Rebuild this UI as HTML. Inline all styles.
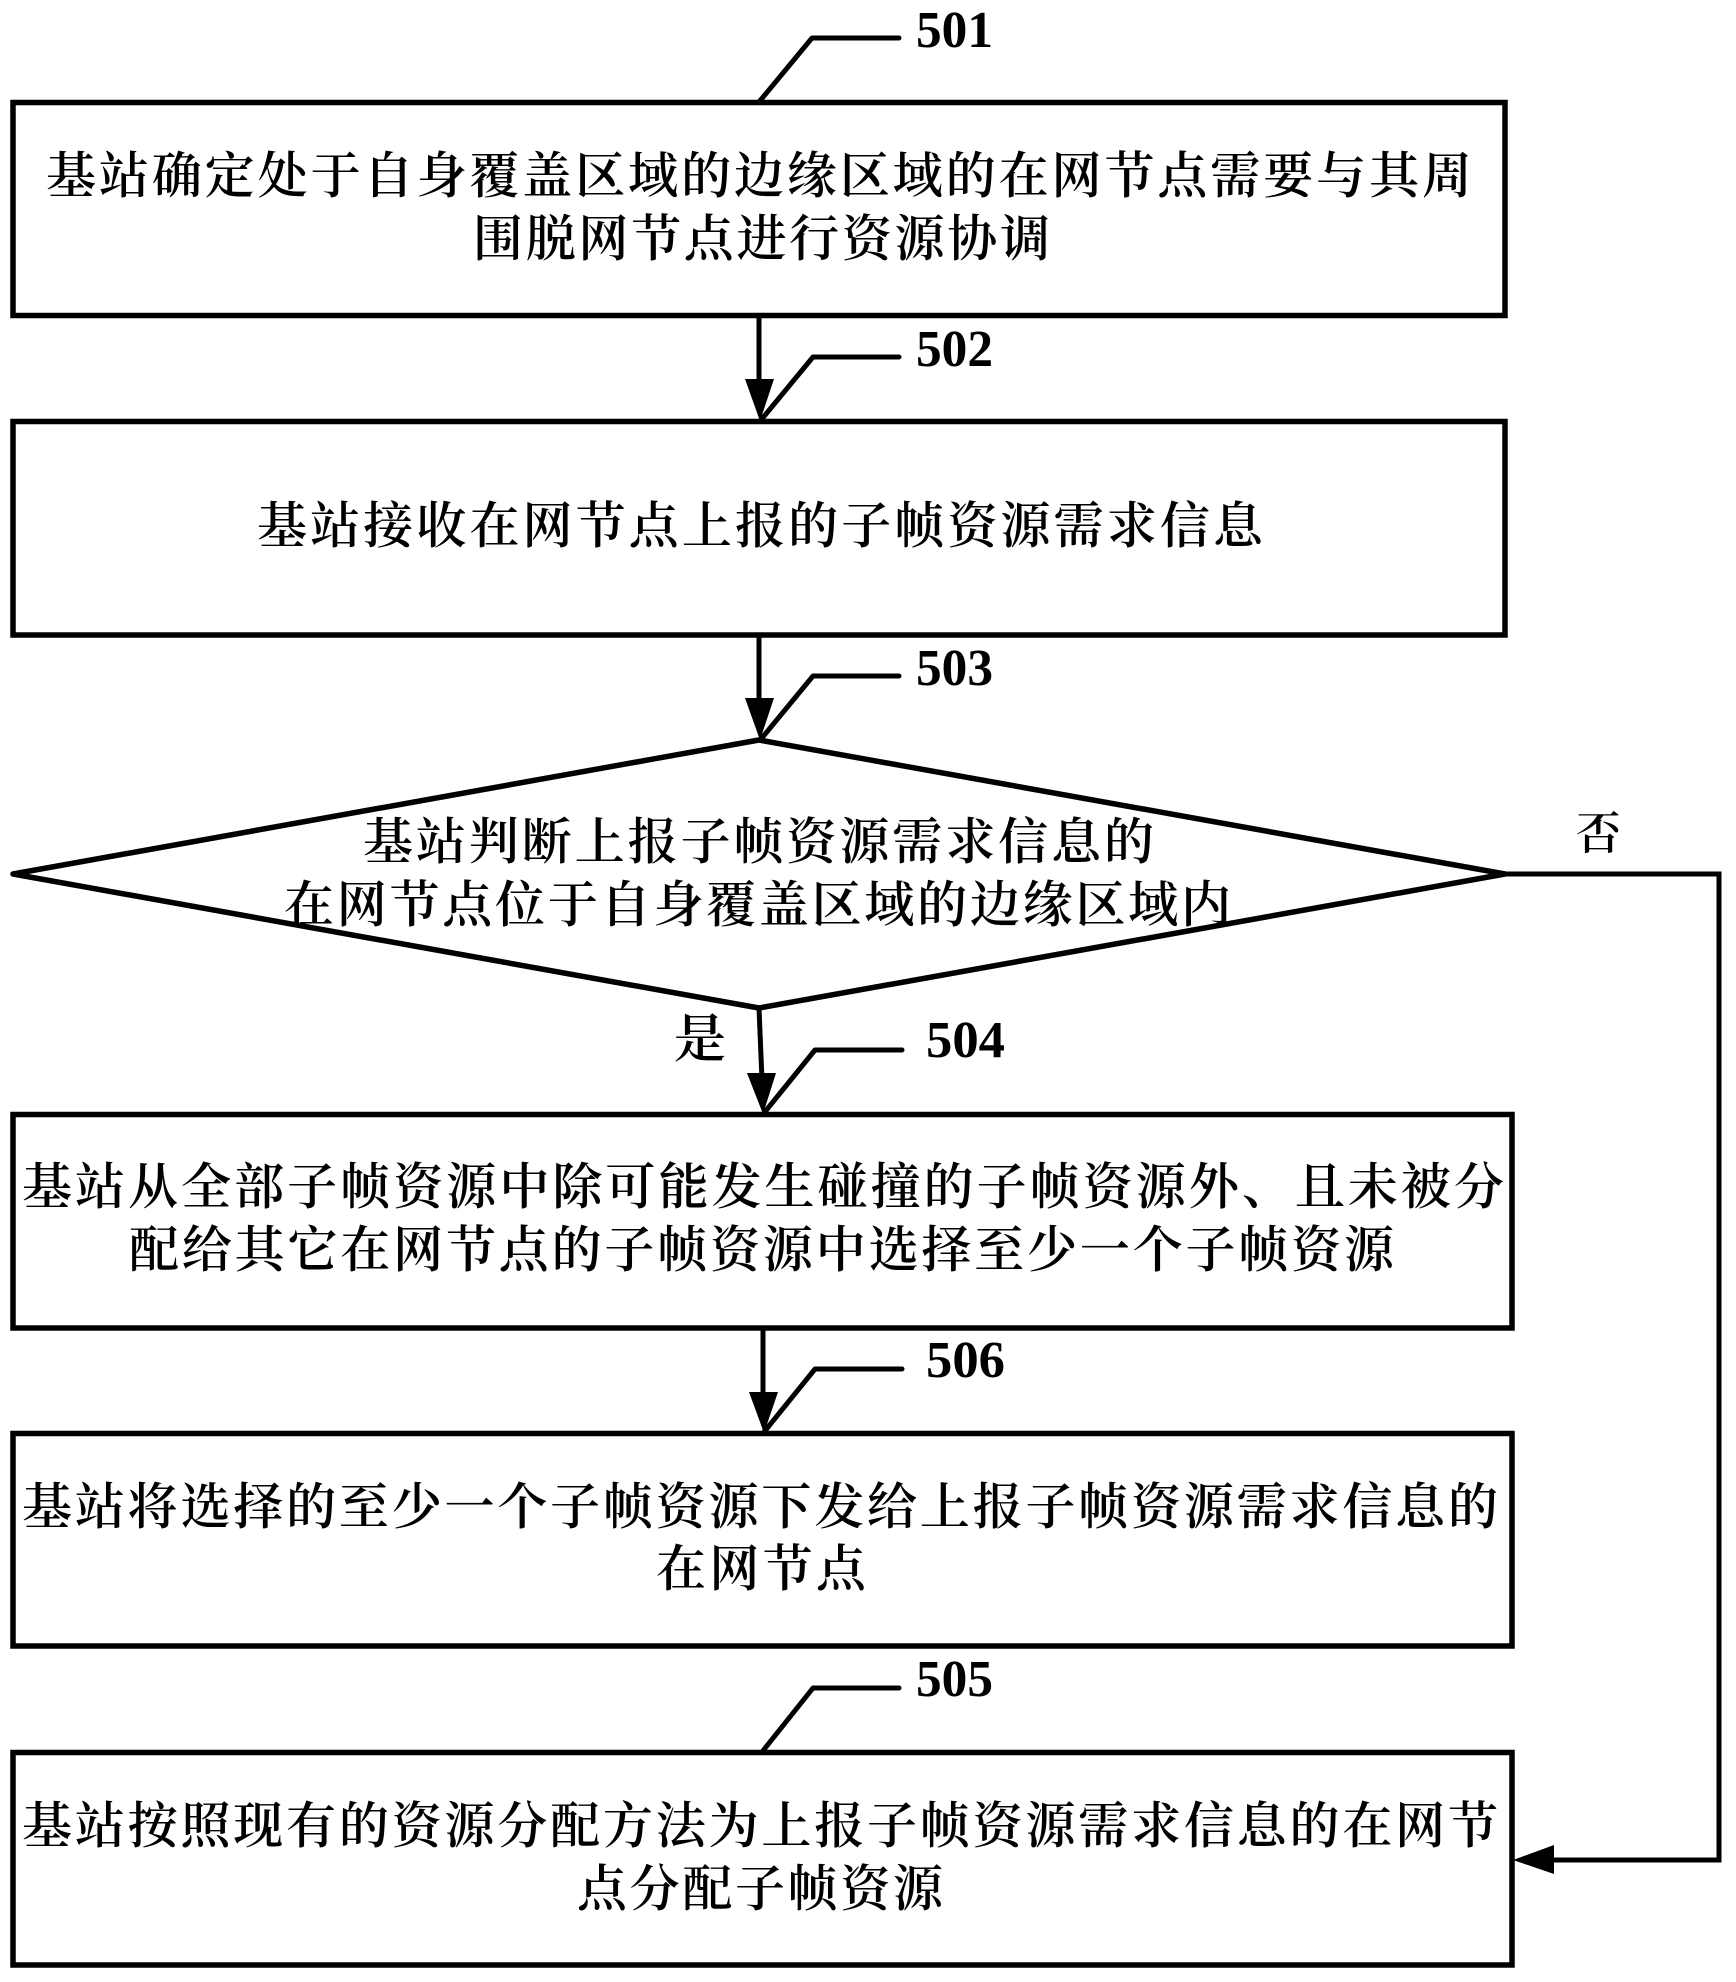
<!DOCTYPE html>
<html lang="zh"><head><meta charset="utf-8"><style>
html,body{margin:0;padding:0;background:#fff}
svg{display:block}
.t{font-family:"Liberation Serif","Noto Serif CJK SC",serif;font-size:50px;font-weight:600;fill:#000}
.n{font-family:"Liberation Serif",serif;font-size:52px;font-weight:700;fill:#000}
</style></head><body>
<svg width="1736" height="1982" viewBox="0 0 1736 1982" xmlns="http://www.w3.org/2000/svg">
<rect width="1736" height="1982" fill="#fff"/>
<g fill="none" stroke="#000" stroke-width="5.500">
<rect x="13" y="102.500" width="1492" height="213"/>
<rect x="13" y="421.500" width="1492" height="213.500"/>
<polygon points="759,740 1505,874 759,1008 13,874" stroke-linejoin="round"/>
<rect x="13" y="1114.500" width="1499" height="213.500"/>
<rect x="13" y="1433.500" width="1499" height="212.500"/>
<rect x="13" y="1752.500" width="1499" height="212.500"/>
</g>
<g fill="none" stroke="#000" stroke-width="5">
<path d="M759 314V385M759 634V705M759 1008L762 1080M763 1327V1398"/>
<path d="M1505 874H1719V1860H1550"/>
</g>
<g fill="#000">
<polygon points="745,379 774,379 760,421"/>
<polygon points="745,698 774,698 760,740"/>
<polygon points="747,1073 776,1073 763,1114"/>
<polygon points="749,1392 778,1392 764,1433"/>
<polygon points="1513,1860 1554,1845 1554,1874"/>
</g>
<g fill="none" stroke="#000" stroke-width="5" stroke-linejoin="round" stroke-linecap="round">
<path d="M759 102L812 38H899"/>
<path d="M761 420L813 357H899"/>
<path d="M761 739L813 676H899"/>
<path d="M764 1113L815 1050H902"/>
<path d="M764 1432L815 1369H902"/>
<path d="M762 1752L813 1688H899"/>
</g>
<text class="n" x="916" y="47" textLength="77" lengthAdjust="spacingAndGlyphs">501</text>
<text class="n" x="916" y="366" textLength="77" lengthAdjust="spacingAndGlyphs">502</text>
<text class="n" x="916" y="685" textLength="77" lengthAdjust="spacingAndGlyphs">503</text>
<text class="n" x="926" y="1057" textLength="79" lengthAdjust="spacingAndGlyphs">504</text>
<text class="n" x="926" y="1377" textLength="79" lengthAdjust="spacingAndGlyphs">506</text>
<text class="n" x="916" y="1696" textLength="77" lengthAdjust="spacingAndGlyphs">505</text>
<text class="t" x="46" y="193" textLength="1426" lengthAdjust="spacing">基站确定处于自身覆盖区域的边缘区域的在网节点需要与其周</text>
<text class="t" x="473" y="256" textLength="577" lengthAdjust="spacing">围脱网节点进行资源协调</text>
<text class="t" x="257" y="543" textLength="1006" lengthAdjust="spacing">基站接收在网节点上报的子帧资源需求信息</text>
<text class="t" x="363" y="859" textLength="791" lengthAdjust="spacing">基站判断上报子帧资源需求信息的</text>
<text class="t" x="284" y="922" textLength="947" lengthAdjust="spacing">在网节点位于自身覆盖区域的边缘区域内</text>
<text class="t" x="22" y="1204" textLength="1482" lengthAdjust="spacing">基站从全部子帧资源中除可能发生碰撞的子帧资源外、且未被分</text>
<text class="t" x="129" y="1267" textLength="1265" lengthAdjust="spacing">配给其它在网节点的子帧资源中选择至少一个子帧资源</text>
<text class="t" x="22" y="1524" textLength="1476" lengthAdjust="spacing">基站将选择的至少一个子帧资源下发给上报子帧资源需求信息的</text>
<text class="t" x="656" y="1586" textLength="210" lengthAdjust="spacing">在网节点</text>
<text class="t" x="22" y="1843" textLength="1476" lengthAdjust="spacing">基站按照现有的资源分配方法为上报子帧资源需求信息的在网节</text>
<text class="t" x="577" y="1906" textLength="366" lengthAdjust="spacing">点分配子帧资源</text>
<text class="t" x="1576" y="849" style="font-size:45px">否</text>
<text class="t" x="674" y="1057" style="font-size:52px">是</text>
</svg>
</body></html>
